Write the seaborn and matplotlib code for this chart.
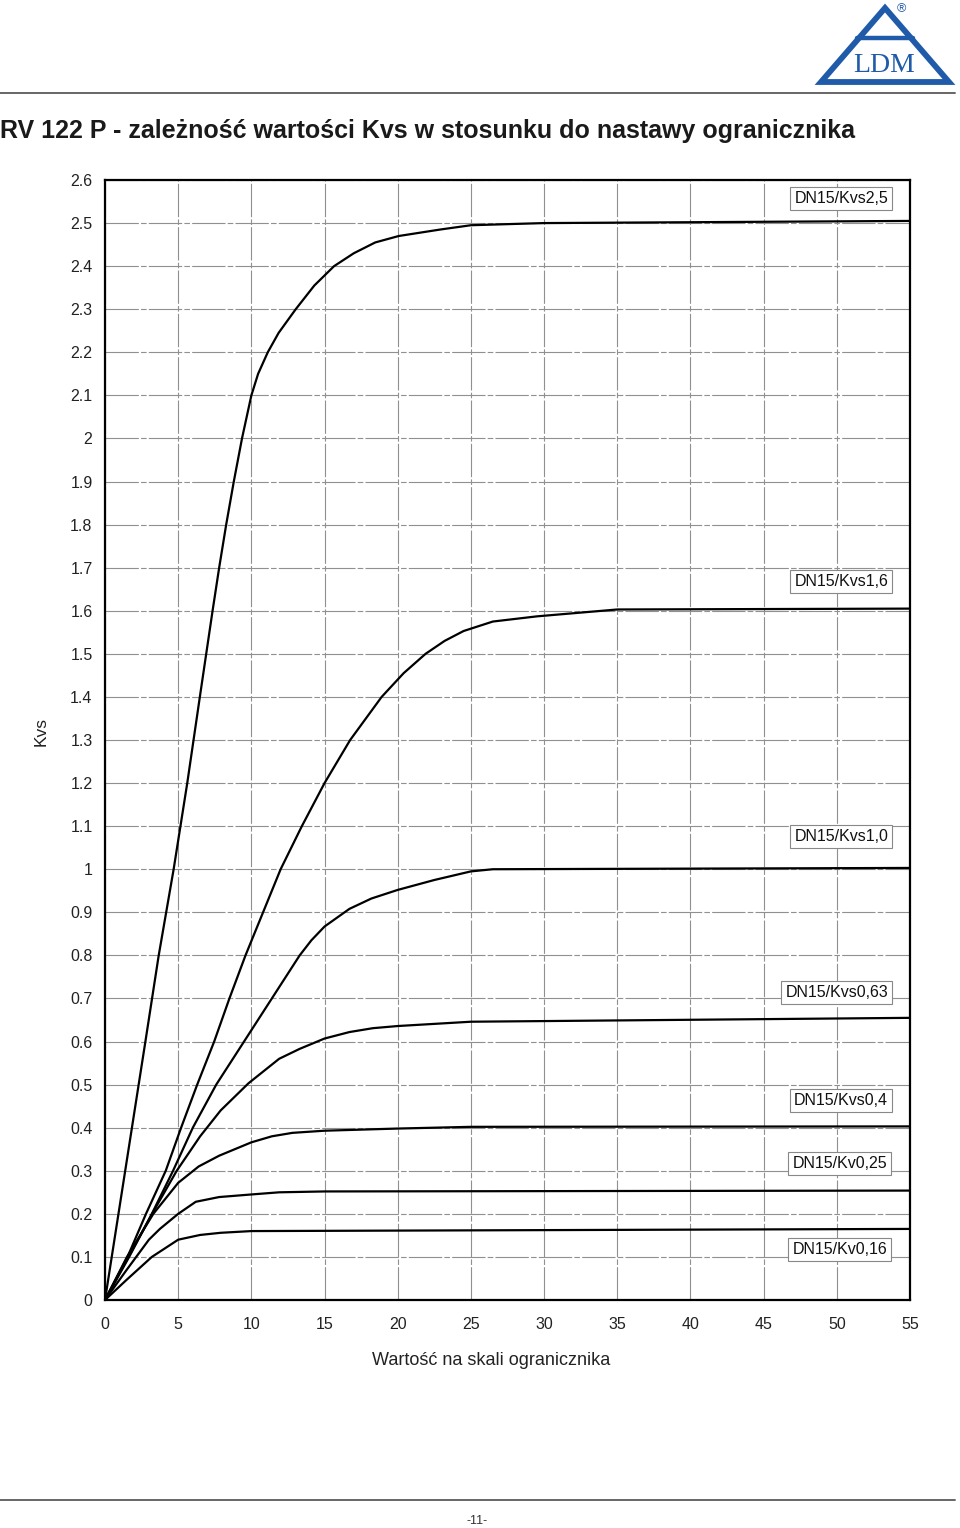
"""
RV 122 P - Kvs vs limiter setting (DN15 variants).
Recreates the catalogue page chart and saves out.png.
"""
import numpy as np
import pandas as pd
import matplotlib
matplotlib.use("Agg")
import matplotlib.pyplot as plt
from matplotlib.ticker import MultipleLocator, FuncFormatter
from matplotlib.lines import Line2D
from matplotlib.patches import Polygon
import seaborn as sns

# curves (x = limiter scale, y = Kvs)
x_kvs25 = [0, 2.76, 3.67, 4.69, 5.62, 6.48, 7.35, 7.8, 8.28, 8.8, 9.36, 10.0, 10.46,
           11.12, 11.86, 13.03, 14.3, 15.65, 17.0, 18.46, 20.07, 22.9, 25, 30, 55]
y_kvs25 = [0, 0.6, 0.8, 1.0, 1.2, 1.4, 1.6, 1.7, 1.8, 1.9, 2.0, 2.1, 2.15,
           2.2, 2.245, 2.3, 2.355, 2.4, 2.43, 2.455, 2.47, 2.485, 2.495, 2.5, 2.505]

x_kvs16 = [0, 1.54, 2.8, 4.15, 5.2, 6.3, 7.46, 8.5, 9.6, 10.8, 12.0, 13.45, 15.0,
           16.75, 18.9, 20.4, 21.9, 23.2, 24.5, 26.5, 29.5, 35, 55]
y_kvs16 = [0, 0.1, 0.2, 0.3, 0.4, 0.5, 0.6, 0.7, 0.8, 0.9, 1.0, 1.1, 1.2,
           1.3, 1.4, 1.455, 1.5, 1.53, 1.553, 1.575, 1.587, 1.603, 1.605]

x_kvs10 = [0, 1.65, 3.2, 4.65, 6.0, 7.6, 9.5, 11.4, 13.3, 14.1, 15.0, 16.7, 18.2,
           20, 22.5, 25, 26.5, 55]
y_kvs10 = [0, 0.1, 0.2, 0.3, 0.4, 0.5, 0.6, 0.7, 0.8, 0.835, 0.867, 0.908, 0.932,
           0.952, 0.975, 0.995, 1.0, 1.003]

x_kvs063 = [0, 1.6, 3.3, 4.9, 6.5, 7.9, 9.8, 11.9, 13.3, 15, 16.7, 18.3, 20, 25, 55]
y_kvs063 = [0, 0.1, 0.205, 0.3, 0.38, 0.44, 0.503, 0.56, 0.583, 0.607, 0.622, 0.631,
            0.636, 0.646, 0.655]

x_kvs04 = [0, 1.5, 3.3, 5, 6.4, 7.8, 10, 11.4, 12.8, 15, 20, 25, 55]
y_kvs04 = [0, 0.1, 0.2, 0.272, 0.31, 0.335, 0.366, 0.38, 0.388, 0.393, 0.398, 0.402, 0.403]

x_kv025 = [0, 1.48, 3.0, 3.75, 5, 6.2, 7.8, 10, 11.9, 15, 55]
y_kv025 = [0, 0.07, 0.14, 0.165, 0.2, 0.228, 0.239, 0.245, 0.25, 0.252, 0.254]

x_kv016 = [0, 1.48, 3.2, 5, 6.5, 7.9, 10, 55]
y_kv016 = [0, 0.047, 0.1, 0.14, 0.151, 0.156, 0.16, 0.165]

series_names = ["DN15/Kvs2,5", "DN15/Kvs1,6", "DN15/Kvs1,0", "DN15/Kvs0,63",
                "DN15/Kvs0,4", "DN15/Kv0,25", "DN15/Kv0,16"]
series_x = [x_kvs25, x_kvs16, x_kvs10, x_kvs063, x_kvs04, x_kv025, x_kv016]
series_y = [y_kvs25, y_kvs16, y_kvs10, y_kvs063, y_kvs04, y_kv025, y_kv016]

# label box anchor (x, y) in data units
label_x = [50.3, 50.3, 50.3, 50.0, 50.3, 50.2, 50.2]
label_y = [2.556, 1.669, 1.075, 0.713, 0.462, 0.316, 0.118]

TITLE = "RV 122 P - zależność wartości Kvs w stosunku do nastawy ogranicznika"
XLABEL = "Wartość na skali ogranicznika"
YLABEL = "Kvs"
PAGE_NO = "-11-"

W, H = 960, 1528
LOGO_BLUE = "#1f5ba8"


def build_frame() -> pd.DataFrame:
    frames = [pd.DataFrame({"x": xs, "y": ys, "series": name})
              for name, xs, ys in zip(series_names, series_x, series_y)]
    return pd.concat(frames, ignore_index=True)


def draw_page(fig):
    # overlay in pixel coordinates for page decorations
    pg = fig.add_axes([0, 0, 1, 1], zorder=-1)
    pg.set_xlim(0, W)
    pg.set_ylim(H, 0)
    pg.axis("off")

    pg.add_line(Line2D([0, 955], [93, 93], color="#666666", lw=1.4))
    pg.add_line(Line2D([0, 955], [1500, 1500], color="#666666", lw=1.4))
    pg.text(0, 131, TITLE, fontsize=18, fontweight="bold", va="center",
            ha="left", color="#1a1a1a")
    pg.text(477, 1521, PAGE_NO, fontsize=9, ha="center", va="center", color="#333333")

    # LDM logo
    pg.add_patch(Polygon([[885, 8], [821, 82], [949, 82]], closed=True, fill=False,
                         edgecolor=LOGO_BLUE, lw=4.2, joinstyle="miter"))
    pg.add_line(Line2D([857, 913], [38, 38], color=LOGO_BLUE, lw=3.2))
    pg.text(884, 65, "LDM", fontsize=20, family="Liberation Serif", color=LOGO_BLUE,
            ha="center", va="center")
    pg.text(901, 9, "®", fontsize=9, color=LOGO_BLUE, ha="center", va="center")


def main():
    sns.set_theme(style="white")
    plt.rcParams["font.family"] = ["Liberation Sans", "DejaVu Sans"]

    fig = plt.figure(figsize=(W / 100, H / 100), dpi=100)
    draw_page(fig)

    ax = fig.add_axes([105 / W, 1 - 1300 / H, 805 / W, 1120 / H])
    df = build_frame()
    sns.lineplot(data=df, x="x", y="y", hue="series", units="series",
                 estimator=None, sort=False, palette=["black"] * len(series_names),
                 linewidth=1.6, legend=False, ax=ax, zorder=3)

    ax.set_xlim(0, 55)
    ax.set_ylim(0, 2.6)
    ax.xaxis.set_major_locator(MultipleLocator(5))
    ax.yaxis.set_major_locator(MultipleLocator(0.1))
    ax.yaxis.set_major_formatter(FuncFormatter(lambda v, _: f"{round(v, 2):g}"))
    ax.grid(True, color="#909090", lw=0.8, ls=(0, (30, 2, 5, 2)))
    ax.tick_params(axis="both", length=0, labelsize=11.5, colors="#222222")
    ax.tick_params(axis="y", pad=9)
    ax.tick_params(axis="x", pad=12)
    for sp in ax.spines.values():
        sp.set_visible(True)
        sp.set_color("black")
        sp.set_linewidth(1.6)
        sp.set_zorder(4)

    ax.set_xlabel(XLABEL, fontsize=13, color="#222222")
    ax.xaxis.set_label_coords((491 - 105) / 805, -(1352 - 1300) / 1120)
    ax.set_ylabel(YLABEL, fontsize=12.5, color="#222222")
    ax.yaxis.set_label_coords(-(105 - 49) / 805, (1300 - 732) / 1120)

    for name, lx, ly in zip(series_names, label_x, label_y):
        ax.text(lx, ly, name, fontsize=11.5, ha="center", va="center", zorder=5,
                color="#111111",
                bbox=dict(boxstyle="square,pad=0.25", fc="white", ec="#888888", lw=0.8))

    fig.savefig("out.png", dpi=100)
    plt.close(fig)


if __name__ == "__main__":
    main()
